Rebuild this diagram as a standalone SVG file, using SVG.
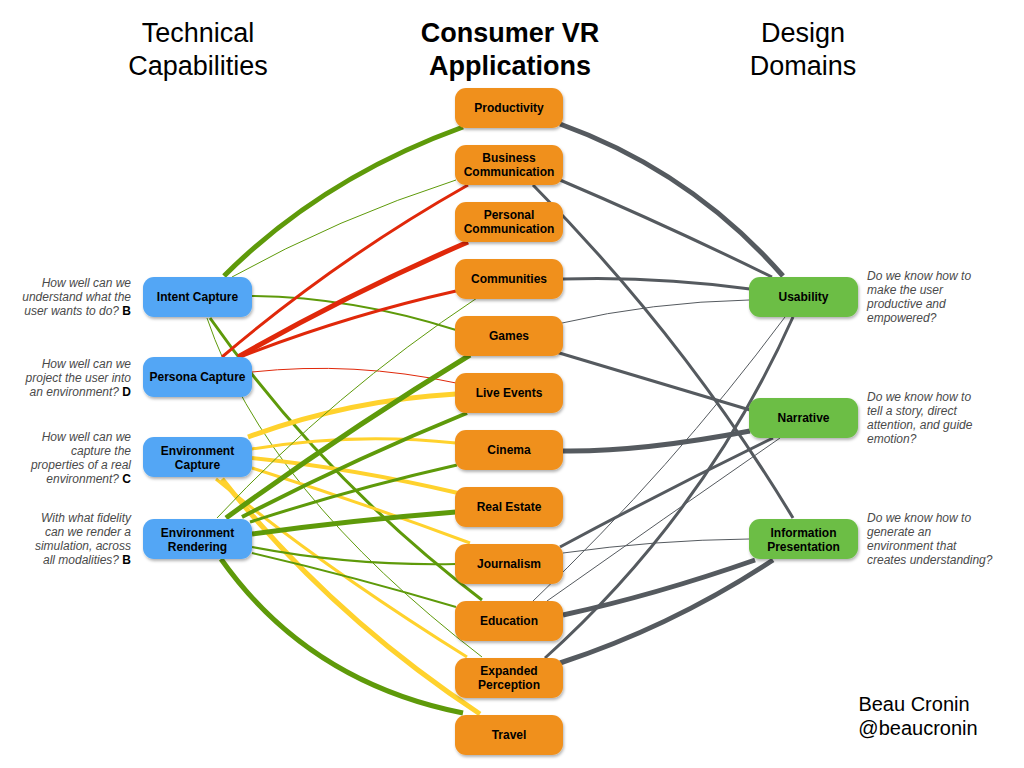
<svg xmlns="http://www.w3.org/2000/svg" width="1024" height="768" viewBox="0 0 1024 768">
<defs>
<filter id="sh" x="-10%" y="-10%" width="120%" height="130%"><feDropShadow dx="1" dy="2" stdDeviation="1.5" flood-color="#000" flood-opacity="0.3"/></filter>
<style>
.t{font-family:"Liberation Sans",Arial,sans-serif;font-size:27px;fill:#000;text-anchor:middle}
.tb{font-weight:bold}
.nl{font-family:"Liberation Sans",Arial,sans-serif;font-size:12px;font-weight:bold;fill:#000;text-anchor:middle}
.an{font-family:"Liberation Sans",Arial,sans-serif;font-size:12px;font-style:italic;fill:#4a4a4a}
.ar{text-anchor:end}
.b{font-weight:bold;font-style:normal;fill:#000}
.sig{font-family:"Liberation Sans",Arial,sans-serif;font-size:20px;fill:#000;text-anchor:middle}
.blue{fill:#52A6F5;filter:url(#sh)}
.org{fill:#F0901E;filter:url(#sh)}
.grn{fill:#6CBE45;filter:url(#sh)}
.e{fill:none;stroke-linecap:butt}
.g{stroke:#5E9A0A}
.r{stroke:#E0280A}
.y{stroke:#FFD22D}
.k{stroke:#555A5F}
.w1{stroke-width:1}
.w2{stroke-width:2}
.w3{stroke-width:3}
.w4{stroke-width:4}
.w5{stroke-width:5}
</style>
</defs>
<rect width="1024" height="768" fill="#fff"/>
<g id="titles">
<text class="t" x="198" y="42">Technical</text>
<text class="t" x="198" y="75">Capabilities</text>
<text class="t tb" x="510" y="42">Consumer VR</text>
<text class="t tb" x="510" y="75">Applications</text>
<text class="t" x="803" y="42">Design</text>
<text class="t" x="803" y="75">Domains</text>
</g>
<g id="connectors">
<!-- Technical -> Applications -->
<path class="e g w5" d="M224,276 Q322,178 463,127"/>
<path class="e g w1" d="M232,277 Q338,218 456,180"/>
<path class="e g w2" d="M252,296 Q352,297 456,330"/>
<path class="e g w3" d="M210,318 Q324,480 482,600"/>
<path class="e g w1" d="M207,318 Q265,490 482,657"/>
<path class="e r w3" d="M222,357 Q337,259 468,185"/>
<path class="e r w5" d="M238,357 Q350,293 468,242"/>
<path class="e r w3" d="M240,357 Q345,316 456,291"/>
<path class="e r w1" d="M252,372 Q354,361 456,383"/>
<path class="e y w5" d="M248,437 Q349,400 456,394"/>
<path class="e y w3" d="M252,449 Q354,432 456,443"/>
<path class="e y w4" d="M252,458 Q352,468 458,493"/>
<path class="e y w3" d="M252,468 Q360,502 470,543"/>
<path class="e y w3" d="M216,479 Q320,565 467,657"/>
<path class="e y w5" d="M222,479 Q330,615 480,714"/>
<path class="e g w5" d="M226,518 Q344,432 470,355"/>
<path class="e g w4" d="M242,517 Q352,460 467,413"/>
<path class="e g w3" d="M250,522 Q355,488 457,465"/>
<path class="e g w5" d="M252,534 Q354,520 456,512"/>
<path class="e g w2" d="M252,547 Q350,566 456,564"/>
<path class="e g w2" d="M252,553 Q355,577 456,607"/>
<path class="e g w5" d="M221,559 Q308,682 463,713"/>
<path class="e g w1" d="M217,518 Q334,393 477,298"/>
<!-- Applications -> Design -->
<path class="e k w5" d="M560,124 Q691,171 783,276"/>
<path class="e k w3" d="M560,180 Q668,226 772,277"/>
<path class="e k w3" d="M533,185 Q683,336 793,518"/>
<path class="e k w3" d="M563,279 Q655,276 750,289"/>
<path class="e k w1" d="M562,323 Q652,302 749,300"/>
<path class="e k w3" d="M556,352 Q652,381 750,410"/>
<path class="e k w5" d="M563,451 Q640,452 750,431"/>
<path class="e k w3" d="M560,547 Q666,490 773,438"/>
<path class="e k w1" d="M563,553 Q655,540 749,539"/>
<path class="e k w1" d="M533,601 Q671,470 785,317"/>
<path class="e k w1" d="M547,601 Q663,519 780,438"/>
<path class="e k w5" d="M563,615 Q655,595 755,560"/>
<path class="e k w3" d="M545,658 Q705,514 793,317"/>
<path class="e k w5" d="M560,663 Q673,626 773,560"/>
</g>
<g id="intent-capture"><rect class="blue" x="143" y="277" width="109" height="40" rx="11"/><text class="nl" x="197.5" y="301">Intent Capture</text></g>
<g id="persona-capture"><rect class="blue" x="143" y="357" width="109" height="40" rx="11"/><text class="nl" x="197.5" y="381">Persona Capture</text></g>
<g id="environment-capture"><rect class="blue" x="143" y="437" width="109" height="40" rx="11"/><text class="nl" x="197.5" y="455">Environment</text><text class="nl" x="197.5" y="469">Capture</text></g>
<g id="environment-rendering"><rect class="blue" x="143" y="519" width="109" height="40" rx="11"/><text class="nl" x="197.5" y="537">Environment</text><text class="nl" x="197.5" y="551">Rendering</text></g>
<g id="productivity"><rect class="org" x="455" y="88" width="108" height="40" rx="11"/><text class="nl" x="509" y="112">Productivity</text></g>
<g id="business-communication"><rect class="org" x="455" y="145" width="108" height="40" rx="11"/><text class="nl" x="509" y="162">Business</text><text class="nl" x="509" y="176">Communication</text></g>
<g id="personal-communication"><rect class="org" x="455" y="202" width="108" height="40" rx="11"/><text class="nl" x="509" y="219">Personal</text><text class="nl" x="509" y="233">Communication</text></g>
<g id="communities"><rect class="org" x="455" y="259" width="108" height="40" rx="11"/><text class="nl" x="509" y="283">Communities</text></g>
<g id="games"><rect class="org" x="455" y="316" width="108" height="40" rx="11"/><text class="nl" x="509" y="340">Games</text></g>
<g id="live-events"><rect class="org" x="455" y="373" width="108" height="40" rx="11"/><text class="nl" x="509" y="397">Live Events</text></g>
<g id="cinema"><rect class="org" x="455" y="430" width="108" height="40" rx="11"/><text class="nl" x="509" y="454">Cinema</text></g>
<g id="real-estate"><rect class="org" x="455" y="487" width="108" height="40" rx="11"/><text class="nl" x="509" y="511">Real Estate</text></g>
<g id="journalism"><rect class="org" x="455" y="544" width="108" height="40" rx="11"/><text class="nl" x="509" y="568">Journalism</text></g>
<g id="education"><rect class="org" x="455" y="601" width="108" height="40" rx="11"/><text class="nl" x="509" y="625">Education</text></g>
<g id="expanded-perception"><rect class="org" x="455" y="658" width="108" height="40" rx="11"/><text class="nl" x="509" y="675">Expanded</text><text class="nl" x="509" y="689">Perception</text></g>
<g id="travel"><rect class="org" x="455" y="715" width="108" height="40" rx="11"/><text class="nl" x="509" y="739">Travel</text></g>
<g id="usability"><rect class="grn" x="749" y="277" width="109" height="40" rx="11"/><text class="nl" x="803.5" y="301">Usability</text></g>
<g id="narrative"><rect class="grn" x="749" y="398" width="109" height="40" rx="11"/><text class="nl" x="803.5" y="422">Narrative</text></g>
<g id="information-presentation"><rect class="grn" x="749" y="519" width="109" height="40" rx="11"/><text class="nl" x="803.5" y="537">Information</text><text class="nl" x="803.5" y="551">Presentation</text></g>
<g id="left-annotations">
<text class="an ar" x="131" y="287">How well can we</text>
<text class="an ar" x="131" y="301">understand what the</text>
<text class="an ar" x="131" y="315">user wants to do? <tspan class="b">B</tspan></text>
<text class="an ar" x="131" y="368">How well can we</text>
<text class="an ar" x="131" y="382">project the user into</text>
<text class="an ar" x="131" y="396">an environment? <tspan class="b">D</tspan></text>
<text class="an ar" x="131" y="441">How well can we</text>
<text class="an ar" x="131" y="455">capture the</text>
<text class="an ar" x="131" y="469">properties of a real</text>
<text class="an ar" x="131" y="483">environment? <tspan class="b">C</tspan></text>
<text class="an ar" x="131" y="522">With what fidelity</text>
<text class="an ar" x="131" y="536">can we render a</text>
<text class="an ar" x="131" y="550">simulation, across</text>
<text class="an ar" x="131" y="564">all modalities? <tspan class="b">B</tspan></text>
</g>
<g id="right-annotations">
<text class="an" x="867" y="280">Do we know how to</text>
<text class="an" x="867" y="294">make the user</text>
<text class="an" x="867" y="308">productive and</text>
<text class="an" x="867" y="322">empowered?</text>
<text class="an" x="867" y="401">Do we know how to</text>
<text class="an" x="867" y="415">tell a story, direct</text>
<text class="an" x="867" y="429">attention, and guide</text>
<text class="an" x="867" y="443">emotion?</text>
<text class="an" x="867" y="522">Do we know how to</text>
<text class="an" x="867" y="536">generate an</text>
<text class="an" x="867" y="550">environment that</text>
<text class="an" x="867" y="564">creates understanding?</text>
</g>
<g id="signature">
<text class="sig" x="914" y="711">Beau Cronin</text>
<text class="sig" x="918" y="735">@beaucronin</text>
</g>
</svg>
